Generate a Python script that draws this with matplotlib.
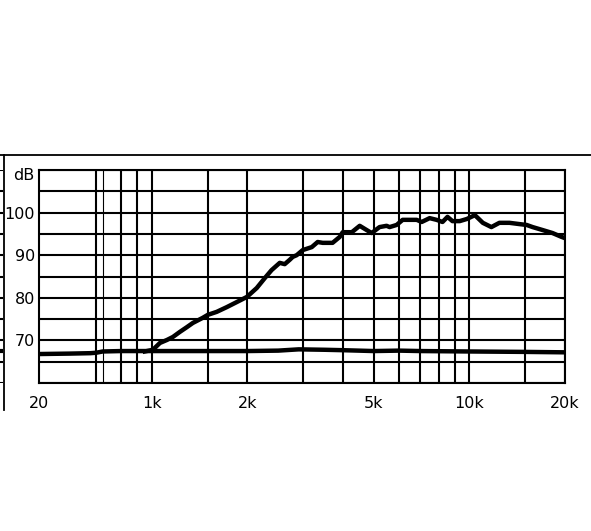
"""
frequency response, two curves on a log axis
"""
import numpy as np
import matplotlib
matplotlib.use("Agg")
import matplotlib.pyplot as plt
from matplotlib.lines import Line2D

# rising curve (Hz, dB)
rise_f = [950, 1007, 1060, 1115, 1164, 1225, 1288, 1346, 1446, 1500, 1600, 1720,
          1851, 1991, 2139, 2266, 2382, 2527, 2620, 2715, 2777, 2857, 2985, 3188,
          3327, 3451, 3707, 3905, 3990, 4263, 4513, 4748, 4922, 5211, 5484, 5606,
          5898, 6163, 6822, 7075, 7495, 7882, 8228, 8530, 8841, 9318, 9815, 10405,
          11021, 11727, 12426, 13373, 14384, 15143, 15817, 17014, 18272, 19500, 20000]
rise_db = [67.4, 67.8, 69.4, 70.1, 70.8, 72.0, 73.1, 74.1, 75.3, 76.0, 76.7, 77.8,
           79.0, 80.2, 82.3, 84.6, 86.5, 88.2, 87.9, 88.9, 89.6, 90.0, 91.2, 91.9,
           93.1, 92.9, 92.9, 94.3, 95.4, 95.4, 96.9, 95.9, 95.2, 96.6, 96.9, 96.6,
           97.1, 98.3, 98.3, 97.8, 98.7, 98.3, 97.8, 99.0, 98.0, 98.0, 98.5, 99.4,
           97.6, 96.6, 97.6, 97.6, 97.3, 97.1, 96.6, 95.9, 95.2, 94.3, 94.0]

# flat curve
flat_f = [441, 550, 640, 667, 700, 800, 1000, 1500, 2000, 2500, 2900, 3500, 4000,
          5000, 6000, 7000, 10000, 15000, 20000]
flat_db = [66.8, 66.9, 67.0, 67.1, 67.4, 67.5, 67.5, 67.5, 67.5, 67.6, 67.9, 67.8,
           67.7, 67.5, 67.6, 67.5, 67.4, 67.3, 67.2]

grid_f = [667, 800, 900, 1000, 1500, 2000, 3000, 4000, 5000, 6000, 7000, 8000,
          9000, 10000, 15000, 20000]
thin_grid_f = [700]
grid_db = [60, 65, 70, 75, 80, 85, 90, 95, 100, 105, 110]

xticks = [441, 1000, 2000, 5000, 10000, 20000]
xlabels = ["20", "1k", "2k", "5k", "10k", "20k"]
yticks = [70, 80, 90, 100, 109]
ylabels = ["70", "80", "90", "100", "dB"]

fig = plt.figure(figsize=(5.91, 5.31), dpi=100)
ax = fig.add_axes([39 / 591, 1 - 383 / 531, 526 / 591, 213 / 531])

for f in grid_f:
    ax.axvline(f, color="black", lw=1.5, zorder=1)
for f in thin_grid_f:
    ax.axvline(f, color="black", lw=0.8, zorder=1)
for d in grid_db:
    ax.axhline(d, color="black", lw=1.5, zorder=1)

ax.plot(flat_f, flat_db, color="black", lw=3.2, zorder=3, solid_capstyle="butt")
ax.plot(rise_f, rise_db, color="black", lw=3.2, zorder=3, solid_joinstyle="round")

ax.set_xscale("log")
ax.set_xlim(441, 20000)
ax.set_ylim(60, 110)
ax.minorticks_off()
ax.set_xticks(xticks)
ax.set_xticklabels(xlabels)
ax.set_yticks(yticks)
ax.set_yticklabels(ylabels)
ax.tick_params(length=0, labelsize=11.5, colors="black")
ax.tick_params(axis="x", pad=9)
ax.tick_params(axis="y", pad=3)
for s in ax.spines.values():
    s.set_linewidth(1.5)
    s.set_color("black")

# stubs at the very left edge
ax2 = fig.add_axes([0, 1 - 383 / 531, 3 / 591, 213 / 531])
ax2.set_ylim(60, 110)
for d in grid_db:
    ax2.axhline(d, color="black", lw=1.5)
ax2.axhline(67.5, color="black", lw=3)
ax2.axis("off")

# outer frame
fig.add_artist(Line2D([0, 1], [1 - 155 / 531, 1 - 155 / 531], color="black", lw=1.3))
fig.add_artist(Line2D([3.5 / 591, 3.5 / 591], [1 - 155 / 531, 1 - 410 / 531],
                      color="black", lw=1.3))

plt.savefig("out.png", dpi=100)
